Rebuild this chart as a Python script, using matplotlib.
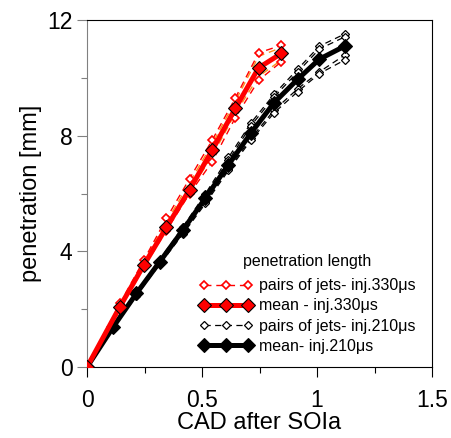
import matplotlib
matplotlib.use('Agg')
import matplotlib.pyplot as plt

plt.rcParams['font.family'] = ['Liberation Sans', 'DejaVu Sans']

# injection 330 us
t330 = [0, 0.143, 0.247, 0.345, 0.446, 0.544, 0.645, 0.746, 0.845]
mean330 = [0, 2.09, 3.53, 4.83, 6.14, 7.50, 8.95, 10.35, 10.85]
pair330_up = [0, 2.20, 3.70, 5.14, 6.52, 7.85, 9.31, 10.87, 11.13]
pair330_lo = [0, 2.00, 3.45, 4.72, 6.00, 7.10, 8.63, 9.92, 10.56]
pair330_up2 = [0, 2.15, 3.64, 5.02, 6.38, 7.72, 9.20, 10.75, 11.05]
pair330_lo2 = [0, 2.04, 3.50, 4.78, 6.08, 7.30, 8.78, 10.05, 10.62]

# injection 210 us
t210 = [0, 0.114, 0.215, 0.316, 0.417, 0.515, 0.615, 0.713, 0.814, 0.915, 1.01, 1.12]
mean210 = [0, 1.39, 2.55, 3.64, 4.74, 5.85, 7.00, 8.10, 9.15, 9.95, 10.65, 11.10]
pair210_up = [0, 1.45, 2.60, 3.72, 4.85, 6.00, 7.25, 8.45, 9.44, 10.30, 11.10, 11.52]
pair210_up2 = [0, 1.42, 2.57, 3.68, 4.80, 5.94, 7.15, 8.35, 9.35, 10.20, 11.00, 11.42]
pair210_lo = [0, 1.36, 2.50, 3.60, 4.66, 5.72, 6.85, 7.92, 8.89, 9.62, 10.21, 10.79]
pair210_lo2 = [0, 1.33, 2.47, 3.55, 4.60, 5.66, 6.80, 7.85, 8.80, 9.52, 10.15, 10.62]

fig = plt.figure(figsize=(4.51, 4.38), dpi=100)
ax = fig.add_axes([0.193, 0.162, 0.765, 0.792])

dash = (0, (5, 3.5))

# orange companion lines of the 330us pairs
for yy in [pair330_up2, pair330_lo2]:
    ax.plot(t330, yy, color='#ff8c1a', lw=1.0, ls=dash, zorder=2)

for i, yy in enumerate([pair330_up, pair330_lo]):
    ax.plot(t330, yy, color='red', lw=1.0, ls=dash, marker='D', ms=4.2,
            mfc='white', mec='red', mew=1.2, zorder=3,
            label='pairs of jets- inj.330\u03bcs' if i == 0 else None)

ax.plot(t330, mean330, color='red', lw=3.6, marker='D', ms=6.8,
        mfc='red', mec='black', mew=0.8, zorder=5,
        label='mean - inj.330\u03bcs')

for i, yy in enumerate([pair210_up, pair210_up2, pair210_lo, pair210_lo2]):
    ax.plot(t210, yy, color='black', lw=0.9, ls=dash, marker='D', ms=4.2,
            mfc='white', mec='black', mew=0.9, zorder=3,
            label='pairs of jets- inj.210\u03bcs' if i == 0 else None)

ax.plot(t210, mean210, color='black', lw=3.6, marker='D', ms=6.8,
        mfc='black', mec='black', mew=0.8, zorder=4,
        label='mean- inj.210\u03bcs')

ax.set_xlim(0, 1.5)
ax.set_ylim(0, 12)
ax.set_xticks([0, 0.5, 1, 1.5])
ax.set_xticklabels(['0', '0.5', '1', '1.5'])
ax.set_xticks([0.25, 0.75, 1.25], minor=True)
ax.set_yticks([0, 4, 8, 12])
ax.set_yticks([2, 6, 10], minor=True)

ax.tick_params(axis='both', which='major', direction='out', length=7.5,
               width=0.8, labelsize=16.5)
ax.tick_params(axis='both', which='minor', direction='out', length=4,
               width=0.8)
ax.tick_params(axis='y', which='both', color='#808080', pad=3)
ax.tick_params(axis='x', which='major', pad=8)
ax.spines['left'].set_color('#808080')
for s in ['bottom', 'top', 'right']:
    ax.spines[s].set_color('black')

ax.set_xlabel('CAD after SOIa', fontsize=17, labelpad=0)
ax.set_ylabel('penetration [mm]', fontsize=17, labelpad=4)

leg = ax.legend(loc='lower right', bbox_to_anchor=(0.97, 0.02),
                title='penetration length', frameon=False,
                fontsize=11.5, title_fontsize=11.5, numpoints=3,
                handlelength=3.3, handletextpad=0.4, labelspacing=0.32,
                borderaxespad=0.2, borderpad=0.2)
leg._legend_box.sep = 7

fig.savefig('out.png', dpi=100)
